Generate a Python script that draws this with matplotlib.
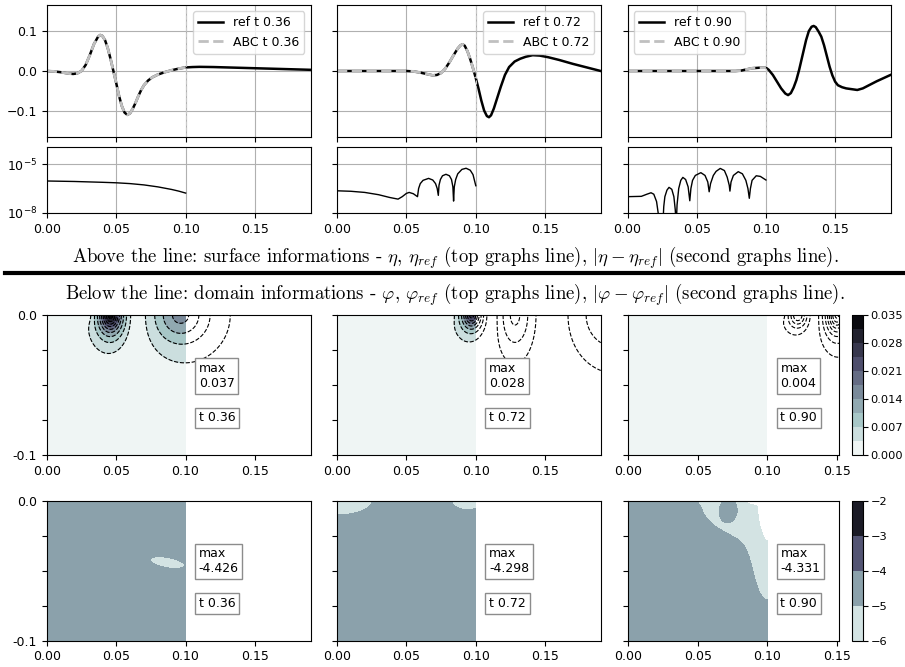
import numpy as np
import matplotlib
matplotlib.use("Agg")
import matplotlib.pyplot as plt

plt.rcParams["font.size"] = 9
plt.rcParams["mathtext.fontset"] = "cm"

TIMES = ["0.36", "0.72", "0.90"]

# surface elevation eta_ref
ref_x_036 = [0.000, 0.005, 0.010, 0.015, 0.019, 0.022, 0.025, 0.028, 0.031, 0.034, 0.037, 0.0385,
             0.040, 0.042, 0.044, 0.046, 0.048, 0.050, 0.052, 0.054, 0.056, 0.058, 0.060, 0.062,
             0.064, 0.066, 0.068, 0.070, 0.073, 0.076, 0.080, 0.085, 0.090, 0.095, 0.100, 0.105,
             0.110, 0.120, 0.130, 0.140, 0.150, 0.160, 0.170, 0.180, 0.190]
ref_eta_036 = [0.000, -0.001, -0.003, -0.006, -0.0075, -0.006, 0.000, 0.015, 0.040, 0.068, 0.087, 0.091,
               0.089, 0.078, 0.057, 0.030, 0.000, -0.030, -0.062, -0.088, -0.105, -0.111, -0.107, -0.095,
               -0.080, -0.063, -0.048, -0.036, -0.024, -0.016, -0.009, -0.003, 0.002, 0.006, 0.009, 0.010,
               0.0105, 0.010, 0.009, 0.008, 0.007, 0.006, 0.005, 0.004, 0.003]

ref_x_072 = [0.000, 0.050, 0.055, 0.060, 0.065, 0.069, 0.072, 0.075, 0.078, 0.081, 0.084, 0.087, 0.089,
             0.0905, 0.092, 0.094, 0.096, 0.098, 0.100, 0.102, 0.104, 0.106, 0.108, 0.1095, 0.111,
             0.113, 0.115, 0.118, 0.121, 0.124, 0.128, 0.132, 0.136, 0.141, 0.146, 0.152, 0.160,
             0.170, 0.180, 0.190]
ref_eta_072 = [0.000, 0.000, -0.001, -0.004, -0.008, -0.011, -0.010, -0.005, 0.006, 0.022, 0.040, 0.057, 0.065,
               0.0675, 0.064, 0.050, 0.030, 0.007, -0.018, -0.045, -0.075, -0.100, -0.114, -0.117, -0.112,
               -0.095, -0.073, -0.040, -0.010, 0.010, 0.024, 0.031, 0.036, 0.040, 0.039, 0.035, 0.028,
               0.018, 0.009, 0.000]

ref_x_090 = [0.000, 0.078, 0.082, 0.086, 0.090, 0.095, 0.100, 0.102, 0.105, 0.108, 0.111, 0.114, 0.116,
             0.118, 0.120, 0.122, 0.124, 0.126, 0.129, 0.131, 0.133, 0.1345, 0.136, 0.138, 0.140,
             0.142, 0.144, 0.146, 0.148, 0.150, 0.152, 0.155, 0.158, 0.162, 0.166, 0.170, 0.175,
             0.180, 0.185, 0.190]
ref_eta_090 = [0.000, 0.000, 0.001, 0.004, 0.007, 0.0082, 0.0084, 0.003, -0.010, -0.027, -0.044, -0.057, -0.061,
               -0.056, -0.042, -0.023, 0.003, 0.033, 0.078, 0.101, 0.112, 0.114, 0.111, 0.100, 0.087,
               0.065, 0.038, 0.011, -0.011, -0.027, -0.036, -0.041, -0.044, -0.046, -0.048, -0.044, -0.035,
               -0.026, -0.018, -0.010]

# ABC solution, only on the computational domain x <= 0.1
abc_x_036 = ref_x_036[:35]
abc_eta_036 = ref_eta_036[:35]
abc_x_072 = ref_x_072[:19]
abc_eta_072 = ref_eta_072[:19]
abc_x_090 = ref_x_090[:7]
abc_eta_090 = ref_eta_090[:7]

# log10 |eta - eta_ref|
err_x_036 = [0.000, 0.020, 0.040, 0.050, 0.060, 0.070, 0.080, 0.090, 0.095, 0.100]
err_log_036 = [-6.04, -6.07, -6.12, -6.15, -6.20, -6.28, -6.40, -6.56, -6.66, -6.78]

err_x_072 = [0.000, 0.010, 0.020, 0.030, 0.038, 0.044, 0.047, 0.050, 0.052, 0.055, 0.058, 0.0588,
             0.060, 0.062, 0.066, 0.069, 0.071, 0.0722, 0.073, 0.0735, 0.0745, 0.076, 0.0785,
             0.081, 0.0825, 0.0835, 0.084, 0.0845, 0.0855, 0.087, 0.090, 0.093, 0.096, 0.098, 0.100]
err_log_072 = [-6.64, -6.67, -6.74, -6.88, -7.05, -7.15, -7.00, -6.80, -6.74, -6.82, -7.00, -6.50,
               -6.20, -6.00, -5.88, -5.98, -6.20, -6.50, -6.92, -6.30, -5.95, -5.72, -5.63,
               -5.72, -5.95, -6.40, -7.27, -6.40, -5.95, -5.60, -5.33, -5.26, -5.38, -5.65, -6.33]

err_x_090 = [0.000, 0.010, 0.014, 0.017, 0.019, 0.021, 0.0235, 0.0255, 0.0262, 0.027, 0.0285, 0.030,
             0.032, 0.0335, 0.0345, 0.0352, 0.0358, 0.037, 0.0385, 0.040, 0.042, 0.0438, 0.045, 0.0458,
             0.047, 0.049, 0.053, 0.056, 0.058, 0.059, 0.060, 0.062, 0.064, 0.067, 0.070, 0.072,
             0.0735, 0.074, 0.0748, 0.0765, 0.080, 0.083, 0.0855, 0.087, 0.088, 0.0888, 0.090,
             0.093, 0.096, 0.100]
err_log_090 = [-7.00, -6.98, -6.85, -6.76, -6.85, -7.30, -8.80, -8.80, -7.60, -7.00, -6.60, -6.43,
               -6.55, -7.00, -7.80, -8.80, -7.50, -6.50, -6.00, -5.82, -5.95, -6.40, -7.25, -6.50,
               -6.00, -5.70, -5.53, -5.70, -6.10, -6.70, -6.20, -5.70, -5.45, -5.27, -5.40, -5.80,
               -6.30, -6.66, -6.10, -5.70, -5.47, -5.60, -6.00, -6.50, -7.10, -6.50, -6.00,
               -5.72, -5.76, -5.98]

# potential phi near the surface: signed lobes (centre x, half width, depth scale, peak value)
phi_lobe_x = [[0.025, 0.046, 0.096],
              [0.0765, 0.097, 0.128, 0.200],
              [0.104, 0.122, 0.150]]
phi_lobe_sx = [[0.009, 0.0075, 0.020],
               [0.0067, 0.0065, 0.014, 0.028],
               [0.0077, 0.0068, 0.007]]
phi_lobe_sy = [[0.0056, 0.0115, 0.020],
               [0.0056, 0.009, 0.028, 0.029],
               [0.003, 0.0085, 0.012]]
phi_lobe_amp = [[-0.0045, 0.036, -0.016],
                [0.0045, -0.028, 0.014, -0.012],
                [0.005, -0.020, 0.030]]
phi_max = ["0.037", "0.028", "0.004"]

# log10 |phi - phi_ref|: background level and patches (centre, size, tilt, amplitude)
err_base = [-4.55, -4.55, -4.55]
err_patch_x = [[0.087], [0.000, 0.094], [0.100, 0.100, 0.073, 0.058, 0.090]]
err_patch_y = [[-0.0442], [0.000, 0.000], [0.000, -0.035, -0.006, 0.000, 0.000]]
err_patch_sx = [[0.0106], [0.02, 0.009], [0.036, 0.008, 0.0045, 0.003, 0.004]]
err_patch_sy = [[0.0031], [0.008, 0.005], [0.022, 0.028, 0.0055, 0.0015, 0.0015]]
err_patch_ang = [[-10.0], [0.0, 0.0], [0.0, 0.0, 0.0, 0.0, 0.0]]
err_patch_amp = [[-0.9], [-1.0, -1.0], [-1.1, -1.0, 0.9, -1.2, -1.2]]
err_max = ["-4.426", "-4.298", "-4.331"]

phi_levels = np.linspace(0, 0.035, 11)
err_levels = [-6, -5, -4, -3, -2]

W, H = 905, 667
fig = plt.figure(figsize=(W / 100, H / 100), dpi=100)


def rect(x0, y0, x1, y1):
    return [x0 / W, 1 - y1 / H, (x1 - x0) / W, (y1 - y0) / H]


cols = [(46.7, 310.7), (337.0, 600.7), (627.5, 890.5)]
refs = [(ref_x_036, ref_eta_036), (ref_x_072, ref_eta_072), (ref_x_090, ref_eta_090)]
abcs = [(abc_x_036, abc_eta_036), (abc_x_072, abc_eta_072), (abc_x_090, abc_eta_090)]
errs = [(err_x_036, err_log_036), (err_x_072, err_log_072), (err_x_090, err_log_090)]

for i, (c0, c1) in enumerate(cols):
    ax = fig.add_axes(rect(c0, 5, c1, 137))
    ax.plot(*refs[i], color="black", lw=1.8, label=f"ref t {TIMES[i]}")
    ax.plot(*abcs[i], color="#c0c0c0", lw=2.0, ls="--", label=f"ABC t {TIMES[i]}")
    ax.axvline(0.1, color="#c8c8c8", lw=0.8, ls="--")
    ax.set_xlim(0, 0.19)
    ax.set_ylim(-0.167, 0.167)
    ax.set_xticks([0, 0.05, 0.1, 0.15])
    ax.set_yticks([-0.1, 0, 0.1])
    ax.tick_params(labelbottom=False, labelleft=(i == 0))
    ax.grid(True)
    ax.legend(loc="upper left" if i == 2 else "upper right")

    ex = fig.add_axes(rect(c0, 147, c1, 213))
    ex.plot(errs[i][0], 10.0 ** np.array(errs[i][1]), color="black", lw=1.0)
    ex.set_yscale("log")
    ex.set_xlim(0, 0.19)
    ex.set_ylim(1e-8, 1.1e-4)
    ex.set_xticks([0, 0.05, 0.1, 0.15])
    ex.set_yticks([1e-8, 1e-5])
    ex.yaxis.set_minor_locator(matplotlib.ticker.NullLocator())
    ex.tick_params(labelleft=(i == 0))
    ex.grid(True)

fig.text(0.503, 1 - 258 / H,
         r"Above the line: surface informations - $\eta$, $\eta_{ref}$ (top graphs line), "
         r"$|\eta - \eta_{ref}|$ (second graphs line).",
         ha="center", va="center", family="cmr10", fontsize=13.5)
fig.add_artist(plt.Line2D([5 / W, 1.0], [1 - 273 / H] * 2, color="black", lw=3, transform=fig.transFigure))
fig.text(0.503, 1 - 295 / H,
         r"Below the line: domain informations - $\varphi$, $\varphi_{ref}$ (top graphs line), "
         r"$|\varphi - \varphi_{ref}|$ (second graphs line).",
         ha="center", va="center", family="cmr10", fontsize=13.5)

gx = np.linspace(0, 0.19, 381)
gy = np.linspace(-0.1, 0, 201)
XX, YY = np.meshgrid(gx, gy)
inside = gx <= 0.1 + 1e-9


def lobes(xs, sxs, sys, amps):
    # rounded signed lobes sitting on the free surface, shown as magnitude
    f = np.zeros_like(XX)
    for x0, sx, sy, a in zip(xs, sxs, sys, amps):
        f += a / (1 + ((XX - x0) / sx) ** 2 + (YY / sy) ** 2)
    return np.abs(f)


def patches(base, xs, ys, sxs, sys, angs, amps):
    f = np.full_like(XX, base)
    for x0, y0, sx, sy, a, amp in zip(xs, ys, sxs, sys, angs, amps):
        t = np.deg2rad(a)
        u = (XX - x0) * np.cos(t) + (YY - y0) * np.sin(t)
        v = -(XX - x0) * np.sin(t) + (YY - y0) * np.cos(t)
        f += amp * np.exp(-(u ** 2 / (2 * sx ** 2) + v ** 2 / (2 * sy ** 2)))
    return f


dom_cols = [(46.7, 311.0, 0.1904), (337.0, 601.3, 0.1904), (628.3, 839.0, 0.1516)]
box = dict(boxstyle="square,pad=0.3", facecolor="white", edgecolor="#8c8c8c")

for row in range(2):
    y0, y1 = (315, 455) if row == 0 else (500.7, 640.7)
    for i, (c0, c1, xr) in enumerate(dom_cols):
        ax = fig.add_axes(rect(c0, y0, c1, y1))
        if row == 0:
            F = lobes(phi_lobe_x[i], phi_lobe_sx[i], phi_lobe_sy[i], phi_lobe_amp[i])
            cs = ax.contourf(XX[:, inside], YY[:, inside], F[:, inside], levels=phi_levels, cmap="bone_r")
            ax.contour(XX, YY, F, levels=phi_levels[1:], colors="black", linestyles="dashed",
                       linewidths=0.8)
            label = phi_max[i]
        else:
            F = patches(err_base[i], err_patch_x[i], err_patch_y[i], err_patch_sx[i], err_patch_sy[i],
                        err_patch_ang[i], err_patch_amp[i])
            cs = ax.contourf(XX[:, inside], YY[:, inside], F[:, inside], levels=err_levels, cmap="bone_r")
            label = err_max[i]
        ax.set_xlim(0, xr)
        ax.set_ylim(-0.1, 0)
        ax.set_xticks([0, 0.05, 0.1, 0.15])
        ax.set_xticklabels(["0.00", "0.05", "0.10", "0.15"])
        ax.set_yticks([-0.1, -0.075, -0.05, -0.025, 0.0])
        if i == 0:
            ax.set_yticklabels(["-0.1", "", "", "", "0.0"])
        else:
            ax.set_yticklabels([])
        ax.text(0.1095, -0.0434, f"max\n{label}", ha="left", va="center", bbox=box)
        ax.text(0.1095, -0.0734, f"t {TIMES[i]}", ha="left", va="center", bbox=box)
        if i == 2:
            cax = fig.add_axes(rect(852, y0, 863, y1))
            if row == 0:
                cb = fig.colorbar(cs, cax=cax, ticks=np.linspace(0, 0.035, 6))
                cb.ax.set_yticklabels([f"{v:.3f}" for v in np.linspace(0, 0.035, 6)])
            else:
                cb = fig.colorbar(cs, cax=cax, ticks=err_levels)
            cb.ax.tick_params(labelsize=8.2, pad=2)

fig.savefig("out.png", dpi=100)
